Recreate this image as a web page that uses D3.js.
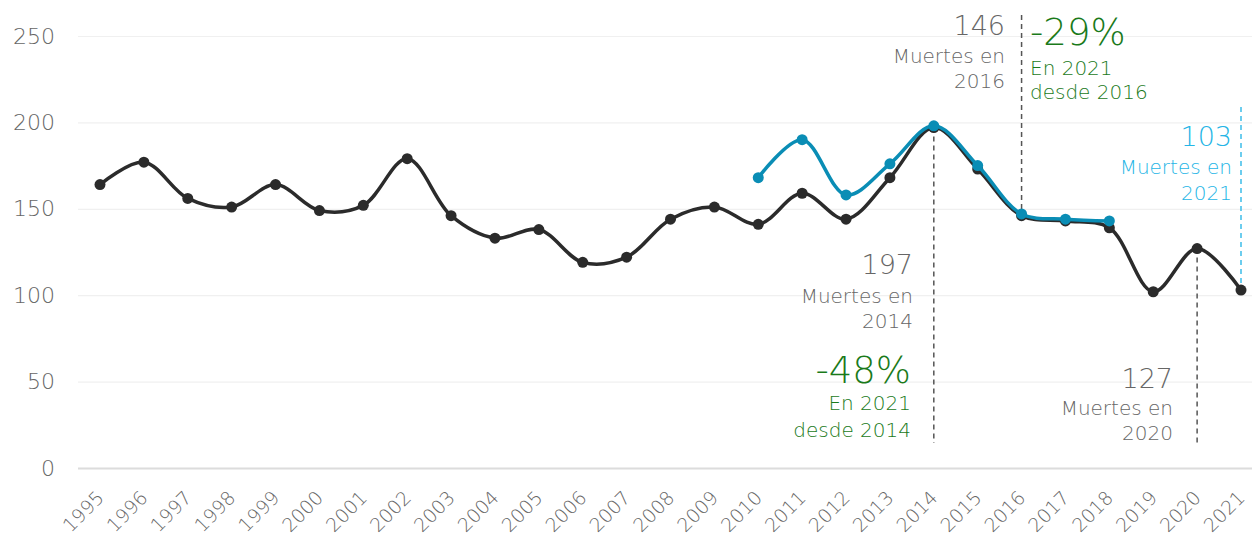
<!DOCTYPE html>
<html>
<head>
<meta charset="utf-8">
<script src="https://cdn.jsdelivr.net/npm/d3@7"></script>
<style>
  body { margin: 0; background: #fff; }
  text { font-family: "DejaVu Sans", "Open Sans", sans-serif; }
</style>
</head>
<body>
<div id="chart"></div>
<script>
// chart size
var svgWidth = 1252;
var svgHeight = 540;

// data
var years = [1995, 1996, 1997, 1998, 1999, 2000, 2001, 2002, 2003, 2004, 2005, 2006, 2007,
  2008, 2009, 2010, 2011, 2012, 2013, 2014, 2015, 2016, 2017, 2018, 2019, 2020, 2021];
var deaths = [164, 177, 156, 151, 164, 149, 152, 179, 146, 133, 138, 119, 122,
  144, 151, 141, 159, 144, 168, 197, 173, 146, 143, 139, 102, 127, 103];
var altYears = [2010, 2011, 2012, 2013, 2014, 2015, 2016, 2017, 2018];
var altDeaths = [168, 190, 158, 176, 198, 175, 147, 144, 143];
var yTicks = [0, 50, 100, 150, 200, 250];

var svg = d3.select("#chart")
  .append("svg")
  .attr("width", svgWidth)
  .attr("height", svgHeight);

var x = d3.scalePoint()
  .domain(years)
  .range([100, 1241]);

var y = d3.scaleLinear()
  .domain([0, 250])
  .range([468, 36]);

// grid lines + y labels
var yAxis = d3.axisLeft(y)
  .tickValues(yTicks)
  .tickSize(-(svgWidth - 78))
  .tickPadding(23);

var yG = svg.append("g")
  .attr("transform", "translate(78,0)")
  .call(yAxis);
yG.select(".domain").remove();
yG.selectAll(".tick line")
  .attr("stroke", d => d === 0 ? "#dcdcdc" : "#f0f0f0")
  .attr("stroke-width", d => d === 0 ? 2 : 1.2);
yG.selectAll(".tick text")
  .attr("fill", "#666")
  .attr("font-size", "22px")
  .attr("font-weight", 200);

// x labels, rotated
svg.append("g").selectAll("text")
  .data(years)
  .enter()
  .append("text")
  .attr("transform", d => `translate(${x(d) + 5},${499}) rotate(-45)`)
  .attr("text-anchor", "end")
  .attr("font-size", "19px")
  .attr("font-weight", 200)
  .attr("fill", "#666")
  .text(d => d);

// dashed reference lines
function vline(year, y1, y2, color) {
  svg.append("line")
    .attr("x1", x(year)).attr("x2", x(year))
    .attr("y1", y1).attr("y2", y2)
    .attr("stroke", color)
    .attr("stroke-width", 1.5)
    .attr("stroke-dasharray", "5,4");
}
vline(2014, y(197), 443, "#555");
vline(2016, 15, y(146), "#555");
vline(2020, y(127), 443, "#555");
vline(2021, 107, 283, "#3cbde9");

// lines
var line = d3.line()
  .x(d => x(d[0]))
  .y(d => y(d[1]))
  .curve(d3.curveCatmullRom.alpha(0.5));

var mainData = years.map((yr, i) => [yr, deaths[i]]);
var altData = altYears.map((yr, i) => [yr, altDeaths[i]]);

svg.append("path")
  .datum(mainData)
  .attr("d", line)
  .attr("fill", "none")
  .attr("stroke", "#2b2b2b")
  .attr("stroke-width", 3.5);

svg.append("g").selectAll("circle")
  .data(mainData)
  .enter()
  .append("circle")
  .attr("cx", d => x(d[0]))
  .attr("cy", d => y(d[1]))
  .attr("r", 5.5)
  .attr("fill", "#2b2b2b");

svg.append("path")
  .datum(altData)
  .attr("d", line)
  .attr("fill", "none")
  .attr("stroke", "#0a8db5")
  .attr("stroke-width", 3.5);

svg.append("g").selectAll("circle")
  .data(altData)
  .enter()
  .append("circle")
  .attr("cx", d => x(d[0]))
  .attr("cy", d => y(d[1]))
  .attr("r", 5.5)
  .attr("fill", "#0a8db5");

// annotations
function note(xPos, anchor, color, lines) {
  var t = svg.append("text")
    .attr("text-anchor", anchor)
    .attr("fill", color)
    .attr("font-weight", 200);
  lines.forEach(function(l) {
    t.append("tspan")
      .attr("x", xPos)
      .attr("y", l[1])
      .attr("font-size", l[2] + "px")
      .text(l[0]);
  });
}
var grey = "#666";
var green = "#1a7a1a";
var lightBlue = "#25b5e6";

note(913, "end", grey, [["197", 274, 27], ["Muertes en", 303, 20], ["2014", 328, 20]]);
note(911, "end", green, [["-48%", 383, 37], ["En 2021", 410, 20], ["desde 2014", 437, 20]]);
note(1005, "end", grey, [["146", 35, 27], ["Muertes en", 63, 20], ["2016", 88, 20]]);
note(1030, "start", green, [["-29%", 45, 37], ["En 2021", 75, 20], ["desde 2016", 99, 20]]);
note(1232, "end", lightBlue, [["103", 146, 27], ["Muertes en", 174, 20], ["2021", 200, 20]]);
note(1173, "end", grey, [["127", 388, 27], ["Muertes en", 415, 20], ["2020", 440, 20]]);
</script>
</body>
</html>
